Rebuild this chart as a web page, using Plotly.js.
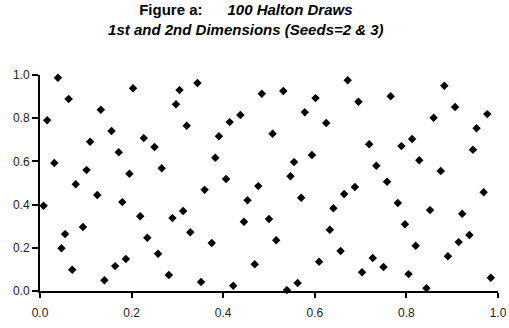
<!DOCTYPE html>
<html>
<head>
<meta charset="utf-8">
<script src="https://cdn.plot.ly/plotly-3.0.1.min.js"></script>
<style>html,body{margin:0;padding:0;background:#fff;}#chart{width:509px;height:328px;}</style>
</head>
<body>
<div id="chart"></div>
<script>
// Dimension 1 (seed 2), draws 1..100
const dim1 = [0.5,0.25,0.75,0.125,0.625,0.375,0.875,0.0625,0.5625,0.3125,
0.8125,0.1875,0.6875,0.4375,0.9375,0.03125,0.53125,0.28125,0.78125,0.15625,
0.65625,0.40625,0.90625,0.09375,0.59375,0.34375,0.84375,0.21875,0.71875,0.46875,
0.96875,0.015625,0.515625,0.265625,0.765625,0.140625,0.640625,0.390625,0.890625,0.078125,
0.578125,0.328125,0.828125,0.203125,0.703125,0.453125,0.953125,0.046875,0.546875,0.296875,
0.796875,0.171875,0.671875,0.421875,0.921875,0.109375,0.609375,0.359375,0.859375,0.234375,
0.734375,0.484375,0.984375,0.0078,0.5078,0.2578,0.7578,0.1328,0.6328,0.3828,
0.8828,0.0703,0.5703,0.3203,0.8203,0.1953,0.6953,0.4453,0.9453,0.0391,
0.5391,0.2891,0.7891,0.1641,0.6641,0.4141,0.9141,0.1016,0.6016,0.3516,
0.8516,0.2266,0.7266,0.4766,0.9766,0.0547,0.5547,0.3047,0.8047,0.1797];
// Dimension 2 (seed 3), draws 1..100
const dim2 = [0.3333,0.6667,0.1111,0.4444,0.7778,0.2222,0.5556,0.8889,0.0370,0.3704,
0.7037,0.1481,0.4815,0.8148,0.2593,0.5926,0.9259,0.0741,0.4074,0.7407,
0.1852,0.5185,0.8519,0.2963,0.6296,0.9630,0.0123,0.3457,0.6790,0.1235,
0.4568,0.7901,0.2346,0.5679,0.9012,0.0494,0.3827,0.7160,0.1605,0.4938,
0.8272,0.2716,0.6049,0.9383,0.0864,0.4198,0.7531,0.1975,0.5309,0.8642,
0.3086,0.6420,0.9753,0.0247,0.3580,0.6914,0.1358,0.4691,0.8025,0.2469,
0.5802,0.9136,0.0617,0.3951,0.7284,0.1728,0.5062,0.8395,0.2840,0.6173,
0.9506,0.0988,0.4321,0.7654,0.2099,0.5432,0.8765,0.3210,0.6543,0.9877,
0.0041,0.3374,0.6708,0.1152,0.4486,0.7819,0.2263,0.5597,0.8930,0.0412,
0.3745,0.7078,0.1523,0.4856,0.8189,0.2634,0.5967,0.9300,0.0782,0.4115];
const xTicks = [0, 0.2, 0.4, 0.6, 0.8, 1.0];
const xTickText = ["0.0","0.2","0.4","0.6","0.8","1.0"];
const yTicks = [0, 0.2, 0.4, 0.6, 0.8, 1.0];
const yTickText = ["0.0","0.2","0.4","0.6","0.8","1.0"];

const font = "Liberation Sans, Arial, sans-serif";
Plotly.newPlot('chart', [{
  x: dim1, y: dim2, type: 'scatter', mode: 'markers', cliponaxis: false,
  marker: {symbol: 'diamond', size: 6.5, color: '#000', line: {width: 0}}
}], {
  width: 509, height: 328,
  margin: {l: 40, r: 11, t: 75, b: 37},
  paper_bgcolor: '#fff', plot_bgcolor: '#fff',
  showlegend: false,
  title: {
    text: '<b>Figure a:      <i>100 Halton Draws</i></b><br><b><i>1st and 2nd Dimensions (Seeds=2 &amp; 3)</i></b>',
    font: {family: font, size: 15, color: '#000'},
    x: 0.483, xanchor: 'center', y: 0.953, yanchor: 'middle'
  },
  xaxis: {
    range: [0, 1], tickvals: xTicks, ticktext: xTickText,
    showgrid: false, zeroline: false, showline: true, linecolor: '#000', linewidth: 2,
    ticks: 'outside', ticklen: 5, tickwidth: 2, tickcolor: '#000',
    tickfont: {family: font, size: 12, color: '#222'}, ticklabelstandoff: 5
  },
  yaxis: {
    range: [0, 1], tickvals: yTicks, ticktext: yTickText,
    showgrid: false, zeroline: false, showline: true, linecolor: '#000', linewidth: 2,
    ticks: 'outside', ticklen: 6, tickwidth: 2, tickcolor: '#000',
    tickfont: {family: font, size: 12, color: '#222'}
  }
}, {staticPlot: true, displayModeBar: false});
</script>
</body>
</html>
